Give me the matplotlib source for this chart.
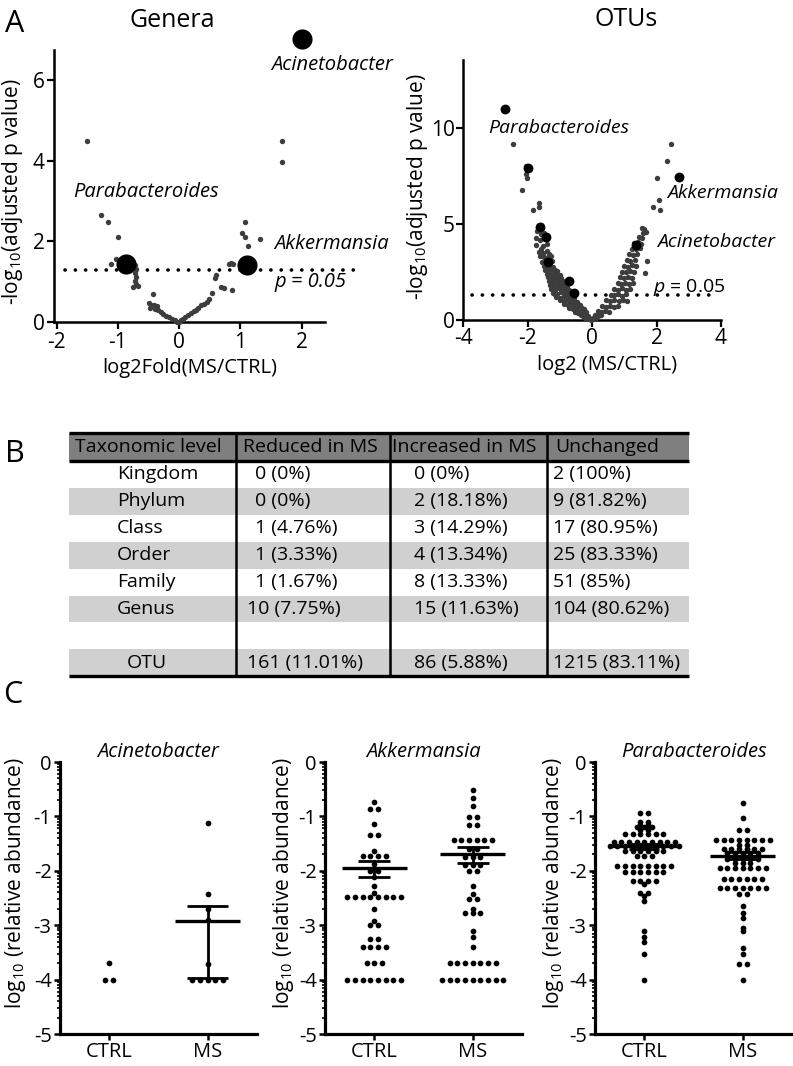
import numpy as np
import matplotlib
matplotlib.use('Agg')
import matplotlib.pyplot as plt
from matplotlib.patches import Rectangle

plt.rcParams['font.family'] = ['Open Sans', 'DejaVu Sans']
plt.rcParams['mathtext.fontset'] = 'custom'
plt.rcParams['mathtext.rm'] = 'Open Sans'
plt.rcParams['mathtext.it'] = 'Open Sans:italic'
plt.rcParams['axes.unicode_minus'] = False

# ---------------- data ----------------
# panel A, genera volcano (log2 fold change, -log10 adjusted p)
genera_points = [
    (-1.51, 4.5), (1.68, 4.5), (1.68, 3.97),
    (-1.28, 2.65), (-1.17, 2.48), (-1.0, 2.11), (-1.04, 1.57), (-1.12, 1.43),
    (-0.72, 1.41), (-0.70, 1.32), (-0.72, 1.22), (-0.70, 1.12), (-0.73, 1.02),
    (-0.71, 0.94), (-0.68, 0.89), (-0.75, 0.87),
    (-0.43, 0.69), (-0.50, 0.46), (-0.46, 0.43), (-0.41, 0.41), (-0.37, 0.39),
    (-0.48, 0.34), (-0.40, 0.32), (-0.34, 0.29), (-0.30, 0.24), (-0.26, 0.2),
    (-0.22, 0.16), (-0.17, 0.12), (-0.12, 0.08), (-0.07, 0.04), (-0.03, 0.01), (0.0, 0.0),
    (1.07, 2.48), (1.02, 2.2), (1.07, 2.1), (1.32, 2.07), (1.13, 1.88),
    (0.85, 1.47), (0.88, 1.43), (0.82, 1.44),
    (0.60, 1.16), (0.58, 1.08), (0.69, 0.87), (0.73, 0.84), (0.86, 0.8),
    (0.54, 0.71), (0.49, 0.56), (0.45, 0.5), (0.40, 0.45), (0.35, 0.42),
    (0.30, 0.35), (0.27, 0.3), (0.24, 0.27), (0.2, 0.22), (0.14, 0.17),
    (0.1, 0.12), (0.06, 0.08), (0.03, 0.04),
]
genera_hit_lfc = [2.0, -0.87, 1.11]
genera_hit_padj = [7.03, 1.43, 1.42]

# panel A, OTU volcano
otu_points = [
    (-2.46, 9.15), (-2.04, 8.0), (-2.05, 7.6), (-2.03, 7.4), (-2.17, 6.8),
    (-1.85, 5.75), (-1.65, 6.1), (-1.64, 5.9),
    (-1.60, 4.95), (-1.55, 4.8), (-1.70, 4.65), (-1.58, 4.5), (-1.50, 4.55),
    (-1.74, 4.25), (-1.61, 4.15), (-1.47, 4.2),
    (-1.73, 3.92), (-1.52, 3.85), (-1.39, 3.95), (-1.60, 3.7),
    (-1.66, 3.55), (-1.53, 3.5), (-1.41, 3.62), (-1.33, 3.45),
    (-1.63, 3.32), (-1.49, 3.28), (-1.38, 3.22), (-1.29, 3.35),
    (-1.56, 3.02), (-1.44, 3.08), (-1.34, 2.97), (-1.25, 3.05),
    (-1.51, 2.83), (-1.41, 2.76), (-1.30, 2.85), (-1.21, 2.78),
    (-1.46, 2.62), (-1.35, 2.57), (-1.26, 2.65), (-1.16, 2.6), (-1.08, 2.55),
    (-1.39, 2.42), (-1.29, 2.37), (-1.19, 2.45), (-1.09, 2.38), (-1.01, 2.33),
    (-1.36, 2.22), (-1.25, 2.18), (-1.16, 2.25), (-1.05, 2.16), (-0.96, 2.2),
    (-1.33, 2.03), (-1.22, 1.98), (-1.11, 2.05), (-1.01, 1.96), (-0.91, 2.02), (-0.83, 1.95),
    (-1.30, 1.83), (-1.19, 1.78), (-1.07, 1.85), (-0.96, 1.76), (-0.86, 1.82), (-0.77, 1.75),
    (-1.27, 1.62), (-1.15, 1.57), (-1.03, 1.65), (-0.91, 1.56), (-0.81, 1.62), (-0.71, 1.55),
    (-1.21, 1.42), (-1.09, 1.37), (-0.96, 1.44), (-0.85, 1.35), (-0.74, 1.41), (-0.65, 1.36),
    (-1.11, 1.22), (-0.99, 1.17), (-0.87, 1.24), (-0.76, 1.15), (-0.66, 1.21), (-0.57, 1.16),
    (-0.99, 1.02), (-0.87, 0.97), (-0.76, 1.04), (-0.66, 0.95), (-0.56, 1.01), (-0.48, 0.96),
    (-0.86, 0.82), (-0.75, 0.77), (-0.64, 0.84), (-0.54, 0.76), (-0.45, 0.81), (-0.37, 0.78),
    (-0.71, 0.62), (-0.61, 0.57), (-0.51, 0.64), (-0.41, 0.56), (-0.33, 0.6), (-0.26, 0.58),
    (-0.53, 0.42), (-0.43, 0.38), (-0.34, 0.44), (-0.26, 0.37), (-0.19, 0.4),
    (-0.36, 0.26), (-0.28, 0.22), (-0.21, 0.27), (-0.14, 0.21),
    (-0.21, 0.13), (-0.15, 0.1), (-0.09, 0.12), (-0.08, 0.04), (-0.03, 0.02),
    (2.46, 9.15), (2.33, 8.28), (2.02, 7.39), (2.07, 6.27), (1.89, 5.87), (2.10, 5.75),
    (1.71, 3.05), (1.63, 2.47),
    (1.55, 4.8), (1.62, 4.72), (1.66, 4.6), (1.58, 4.52), (1.46, 4.32), (1.55, 4.25),
    (1.31, 4.02), (1.43, 4.08), (1.52, 3.97),
    (1.24, 3.72), (1.36, 3.68), (1.47, 3.75),
    (1.15, 3.42), (1.27, 3.38), (1.39, 3.45),
    (1.07, 3.12), (1.19, 3.08), (1.32, 3.15),
    (1.0, 2.82), (1.11, 2.78), (1.24, 2.85), (1.37, 2.8),
    (0.94, 2.52), (1.05, 2.48), (1.17, 2.55), (1.29, 2.5),
    (0.87, 2.22), (0.99, 2.18), (1.11, 2.25), (1.23, 2.2),
    (0.79, 1.92), (0.91, 1.88), (1.03, 1.95), (1.15, 1.87), (1.26, 1.93),
    (0.69, 1.62), (0.81, 1.58), (0.93, 1.65), (1.05, 1.57), (1.17, 1.63),
    (0.57, 1.32), (0.69, 1.28), (0.81, 1.35), (0.93, 1.27), (1.05, 1.33),
    (0.44, 1.02), (0.56, 0.98), (0.69, 1.05), (0.82, 0.97), (0.95, 1.03), (1.07, 0.99),
    (0.31, 0.72), (0.43, 0.68), (0.55, 0.74), (0.67, 0.67), (0.79, 0.71),
    (0.19, 0.46), (0.29, 0.42), (0.41, 0.47), (0.53, 0.43),
    (0.09, 0.26), (0.19, 0.23), (0.29, 0.27), (0.03, 0.1), (0.11, 0.12),
]
otu_hit_lfc = [-2.69, -1.99, -1.63, -1.44, -1.36, -0.73, -0.57, 1.375, 2.70]
otu_hit_padj = [10.98, 7.93, 4.83, 4.3, 3.0, 2.03, 1.4, 3.92, 7.44]
p_cut = -np.log10(0.05)

# panel B table
tab_header = ['Taxonomic level', 'Reduced in MS', 'Increased in MS', 'Unchanged']
tax_levels = ['Kingdom', 'Phylum', 'Class', 'Order', 'Family', 'Genus', '', 'OTU']
reduced = ['0 (0%)', '0 (0%)', '1 (4.76%)', '1 (3.33%)', '1 (1.67%)', '10 (7.75%)', '', '161 (11.01%)']
increased = ['0 (0%)', '2 (18.18%)', '3 (14.29%)', '4 (13.34%)', '8 (13.33%)', '15 (11.63%)', '', '86 (5.88%)']
unchanged = ['2 (100%)', '9 (81.82%)', '17 (80.95%)', '25 (83.33%)', '51 (85%)', '104 (80.62%)', '', '1215 (83.11%)']

# panel C, log10 relative abundance per subject
acin_ctrl = [-3.7, -4.0, -4.0]
acin_ms = [-1.12, -2.43, -2.7, -2.9, -3.71, -4.0, -4.0, -4.0, -4.0, -4.0]
akk_ctrl = ([-0.73] + [-0.86] * 2 + [-1.14] + [-1.35] * 2 + [-1.63] + [-1.72] * 4 + [-1.88]
            + [-2.0] * 2 + [-2.12] + [-2.28] + [-2.4] + [-2.48] * 8 + [-2.7] + [-2.92]
            + [-3.0] * 2 + [-3.25] * 2 + [-3.4] * 4 + [-3.7] * 3 + [-4.0] * 8)
akk_ms = ([-0.51, -0.67, -0.8] + [-1.02] * 2 + [-1.15] * 2 + [-1.44] * 6 + [-1.6] * 2
          + [-1.75] * 3 + [-1.9] * 3 + [-2.0] * 2 + [-2.28, -2.43] + [-2.52] * 2 + [-2.7]
          + [-2.78] * 3 + [-3.1, -3.22, -3.4] + [-3.7] * 7 + [-4.0] * 9)
par_ctrl = ([-0.93] * 2 + [-1.1] * 2 + [-1.15] * 2 + [-1.2] * 3 + [-1.25] * 2 + [-1.33] * 6
            + [-1.47] * 9 + [-1.55] * 10 + [-1.63] * 6 + [-1.72] * 3 + [-1.91] * 8
            + [-2.03] * 6 + [-2.19] * 4 + [-2.25] + [-2.4] * 2 + [-2.47, -2.55, -3.1, -3.22,
                                                                    -3.3, -3.53, -4.0])
par_ms = ([-0.76, -1.03] + [-1.25] * 2 + [-1.44] * 8 + [-1.52] * 2 + [-1.6] * 6 + [-1.68] * 5
          + [-1.78] * 5 + [-1.85] * 3 + [-1.95] * 7 + [-2.15] * 6 + [-2.31] * 7 + [-2.42] * 2
          + [-2.65, -2.77, -2.86, -3.05, -3.1, -3.41, -3.53] + [-3.71] * 2 + [-4.0])
# (centre, lower, upper) lines drawn in the figure
acin_stats = [None, (-2.93, -3.97, -2.65)]
akk_stats = [(-1.95, -2.12, -1.82), (-1.70, -1.85, -1.57)]
par_stats = [(-1.55, -1.60, -1.51), (-1.72, -1.79, -1.66)]
groups = ['CTRL', 'MS']

# ---------------- figure ----------------
W, H = 793, 1066
fig = plt.figure(figsize=(W / 100, H / 100), dpi=100)


def px_rect(l, t, r, b):
    return [l / W, 1 - b / H, (r - l) / W, (b - t) / H]


def ftxt(x, y, s, **kw):
    return fig.text(x / W, 1 - y / H, s, **kw)


GREY = '#3d3d3d'


def style_axes(ax, lw=1.8):
    for side in ('top', 'right'):
        ax.spines[side].set_visible(False)
    for side in ('left', 'bottom'):
        ax.spines[side].set_linewidth(lw)


def dotted(ax, x0, x1, y):
    ax.plot([x0, x1], [y, y], color='k', lw=2.6, linestyle=(0, (0.05, 2.8)),
            dash_capstyle='round', clip_on=False, zorder=2)


# --- A: genera ---
ax = fig.add_axes(px_rect(54.3, 50, 325, 322))
gx, gy = zip(*genera_points)
ax.scatter(gx, gy, s=15, color=GREY, lw=0, clip_on=False, zorder=3)
ax.scatter(genera_hit_lfc, genera_hit_padj, s=210, color='k', lw=0, clip_on=False, zorder=4)
dotted(ax, -1.87, 2.98, p_cut)
ax.set_xlim(-2.04, 2.38)
ax.set_ylim(0, 6.75)
ax.set_xticks([-2, -1, 0, 1, 2])
ax.set_yticks([0, 2, 4, 6])
style_axes(ax)
ax.tick_params(direction='out', length=5, width=1.6, labelsize=15, pad=2)

# --- A: OTUs ---
ax = fig.add_axes(px_rect(463.3, 60, 721, 320))
ox, oy = zip(*otu_points)
ax.scatter(ox, oy, s=15, color=GREY, lw=0, clip_on=False, zorder=3)
ax.scatter(otu_hit_lfc, otu_hit_padj, s=50, color='k', lw=0, clip_on=False, zorder=4)
dotted(ax, -3.72, 3.8, p_cut)
ax.set_xlim(-4, 4)
ax.set_ylim(0, 13.55)
ax.set_xticks([-4, -2, 0, 2, 4])
ax.set_yticks([0, 5, 10])
style_axes(ax)
ax.tick_params(direction='out', length=5, width=1.6, labelsize=15, pad=1)

ylab_a = r'-log$_{10}$(adjusted p value)'
ftxt(13, 192, ylab_a, rotation=90, ha='center', va='center', fontsize=15)
ftxt(418, 187, ylab_a, rotation=90, ha='center', va='center', fontsize=15)
ftxt(190, 368, 'log2Fold(MS/CTRL)', ha='center', va='center', fontsize=14.5)
ftxt(607, 365, 'log2 (MS/CTRL)', ha='center', va='center', fontsize=14.5)
ftxt(172, 27, 'Genera', ha='center', va='baseline', fontsize=18)
ftxt(626, 26, 'OTUs', ha='center', va='baseline', fontsize=18)
ftxt(5, 32, 'A', ha='left', va='baseline', fontsize=22)

ftxt(271, 70, 'Acinetobacter', style='italic', fontsize=14.5, va='baseline')
ftxt(73, 197, 'Parabacteroides', style='italic', fontsize=14.5, va='baseline')
ftxt(274, 249, 'Akkermansia', style='italic', fontsize=14.5, va='baseline')
ftxt(274, 287, 'p = 0.05', style='italic', fontsize=14.5, va='baseline')
ftxt(488, 133, 'Parabacteroides', style='italic', fontsize=14, va='baseline')
ftxt(667, 198, 'Akkermansia', style='italic', fontsize=14, va='baseline')
ftxt(657, 247, 'Acinetobacter', style='italic', fontsize=14, va='baseline')
ftxt(653, 292, r'$\mathit{p}$ = 0.05', fontsize=14, va='baseline')

# --- B: table ---
axt = fig.add_axes([0, 0, 1, 1])
axt.set_xlim(0, W)
axt.set_ylim(H, 0)
axt.axis('off')
t_left, t_right = 69, 689
h_top, h_bot = 433, 461
row_h = 26.9
dividers = [236, 390, 547]
axt.add_patch(Rectangle((t_left, h_top), t_right - t_left, h_bot - h_top,
                        color='#7f7f7f', lw=0))
for i in range(len(tax_levels)):
    if i % 2 == 1:
        axt.add_patch(Rectangle((t_left, h_bot + i * row_h), t_right - t_left, row_h,
                                color='#d0d0d0', lw=0))
t_bot = h_bot + len(tax_levels) * row_h
for y in (h_top, h_bot, t_bot):
    axt.plot([t_left, t_right], [y, y], color='k', lw=2.4, solid_capstyle='butt')
for x in dividers:
    axt.plot([x, x], [h_top, t_bot], color='k', lw=1.8)
for x, s in zip([75, 243, 392, 555], tab_header):
    axt.text(x, (h_top + h_bot) / 2, s, ha='left', va='center', fontsize=14)
for i, (lvl, r, inc, u) in enumerate(zip(tax_levels, reduced, increased, unchanged)):
    yc = h_bot + (i + 0.5) * row_h
    x0 = 127 if lvl == 'OTU' else 117
    x1 = 247 if len(r.split(' ')[0]) > 1 else 255
    axt.text(x0, yc, lvl, ha='left', va='center', fontsize=14)
    axt.text(x1, yc, r, ha='left', va='center', fontsize=14)
    axt.text(414, yc, inc, ha='left', va='center', fontsize=14)
    axt.text(553, yc, u, ha='left', va='center', fontsize=14)
ftxt(5, 462, 'B', ha='left', va='baseline', fontsize=22)

# --- C: dot plots ---


def swarm_offsets(vals, step):
    vals = np.asarray(vals)
    off = np.zeros(len(vals))
    for v in np.unique(vals):
        idx = np.where(vals == v)[0]
        off[idx] = (np.arange(len(idx)) - (len(idx) - 1) / 2) * step
    return off


minor_ticks = [d + np.log10(k) for d in range(-5, 0) for k in range(2, 10)]


def dot_panel(rect, data, stats, capw, title, ylab_x):
    ax = fig.add_axes(px_rect(*rect))
    for i, vals in enumerate(data):
        off = swarm_offsets(vals, 0.078)
        ax.scatter(i + off, vals, s=17, color='k', lw=0, zorder=3, clip_on=False)
    for i, st in enumerate(stats):
        if st is None:
            continue
        c, lo, hi = st
        ax.plot([i - 0.33, i + 0.33], [c, c], color='k', lw=2.4, solid_capstyle='butt', zorder=4)
        ax.plot([i, i], [lo, hi], color='k', lw=2.0, zorder=4)
        for v in (lo, hi):
            ax.plot([i - capw / 2, i + capw / 2], [v, v], color='k', lw=2.0,
                    solid_capstyle='butt', zorder=4)
    ax.set_xlim(-0.5, 1.5)
    ax.set_ylim(-5, 0)
    ax.set_xticks([0, 1])
    ax.set_xticklabels(groups)
    ax.set_yticks(range(-5, 1))
    ax.set_yticks(minor_ticks, minor=True)
    style_axes(ax, lw=2.3)
    ax.tick_params(which='major', direction='out', length=4, width=1.8, labelsize=14.5, pad=2)
    ax.tick_params(axis='y', which='minor', direction='out', length=2.5, width=1.2)
    l, t, r, b = rect
    ftxt((l + r) / 2, 757, title, style='italic', ha='center', va='baseline', fontsize=14.5)
    ftxt(ylab_x, 883, r'log$_{10}$ (relative abundance)', rotation=90,
         ha='center', va='center', fontsize=15)
    return ax


dot_panel((60, 762, 257, 1034), [acin_ctrl, acin_ms], acin_stats, 0.42, 'Acinetobacter', 16)
dot_panel((325, 762, 522, 1034), [akk_ctrl, akk_ms], akk_stats, 0.32, 'Akkermansia', 283)
dot_panel((595, 762, 792, 1034), [par_ctrl, par_ms], par_stats, 0.30, 'Parabacteroides', 554)
ftxt(3, 703, 'C', ha='left', va='baseline', fontsize=22)

fig.savefig('out.png', dpi=100)
